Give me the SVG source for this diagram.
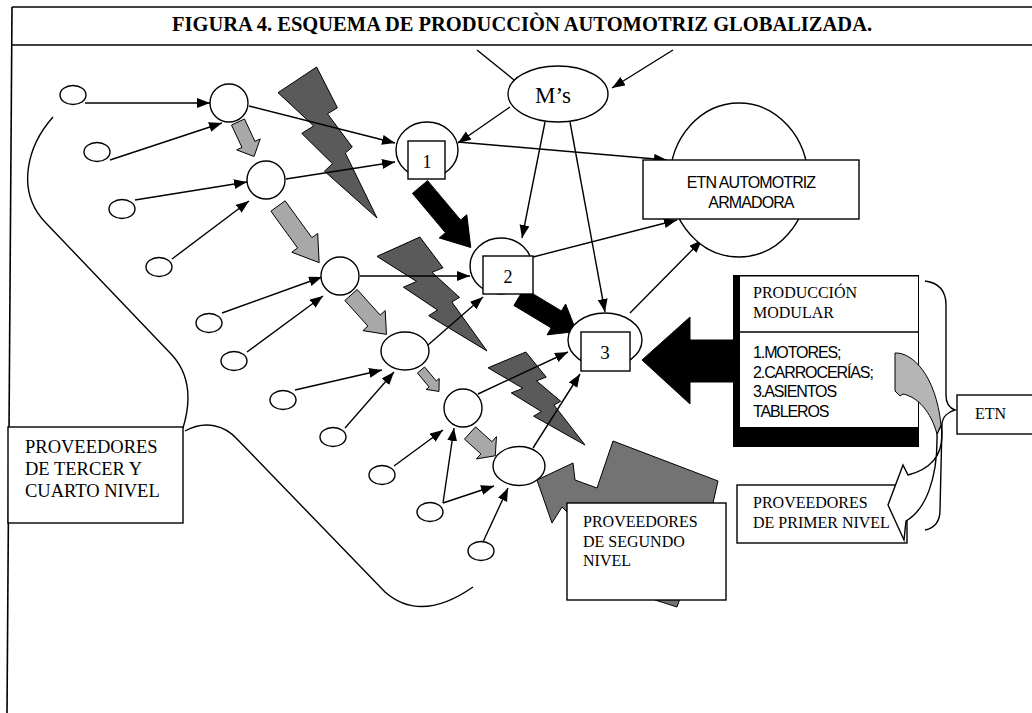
<svg xmlns="http://www.w3.org/2000/svg" width="1032" height="713" viewBox="0 0 1032 713">
<defs>
<style>
.ln{stroke:#000;stroke-width:1.4;fill:none}
.ar{marker-end:url(#ah)}
.nd{fill:#fff;stroke:#000;stroke-width:1.4}
.bolt{fill:#5a5a5a;stroke:#000;stroke-width:1}
.ga{fill:#a8a8a8;stroke:#000;stroke-width:1}
.ka{fill:#000;stroke:#000;stroke-width:1}
.frame{stroke:#000;stroke-width:1.6;fill:none}
.serif{font-family:"Liberation Serif","Times New Roman",serif;fill:#000}
.sans{font-family:"Liberation Sans",Arial,sans-serif;fill:#000}
</style>
<marker id="ah" markerUnits="userSpaceOnUse" markerWidth="14" markerHeight="11" refX="13" refY="5" orient="auto"><path d="M0,0 L13,5 L0,10 Z" fill="#000"/></marker>
<polygon id="boltshape" vector-effect="non-scaling-stroke" points="0,0.17 0.39,0 0.6,0.27 0.5,0.31 0.75,0.53 0.68,0.57 1,1 0.47,0.69 0.55,0.64 0.24,0.44 0.36,0.39"/>
<path id="blk" vector-effect="non-scaling-stroke" d="M0,-0.275 L0.65,-0.275 L0.65,-0.5 L1,0 L0.65,0.5 L0.65,0.275 L0,0.275 Z"/>
</defs>
<rect width="1032" height="713" fill="#fff"/>

<g id="frame">
<line class="frame" x1="12" y1="7" x2="1032" y2="7"/>
<line class="frame" x1="12" y1="45" x2="1032" y2="45"/>
<line class="frame" x1="12" y1="7" x2="7" y2="713"/>
<text class="serif" x="522" y="31" font-size="20.5" font-weight="bold" text-anchor="middle">FIGURA 4. ESQUEMA DE PRODUCCIÒN AUTOMOTRIZ GLOBALIZADA.</text>
</g>

<g id="region-boundary">
<path class="ln" d="M53,117 C28,145 15,190 45,222 L172,355 C192,377 190,405 183,428"/>
<path class="ln" d="M185,431 C205,420 225,425 238,440 L385,592 C410,614 440,610 473,587"/>
</g>

<g id="bolts">
<use href="#boltshape" class="bolt" transform="translate(278,67) scale(99,151)"/>
<use href="#boltshape" class="bolt" transform="translate(377,237) scale(110,114)"/>
<use href="#boltshape" class="bolt" transform="translate(488,352) scale(97,93)"/>
</g>

<g id="block-arrows">
<use href="#blk" class="ga" transform="translate(238,122) rotate(65) scale(38,26)"/>
<use href="#blk" class="ga" transform="translate(278,206) rotate(54) scale(70,32)"/>
<use href="#blk" class="ga" transform="translate(351,295) rotate(48) scale(53,30)"/>
<use href="#blk" class="ga" transform="translate(421,370) rotate(50) scale(28,17)"/>
<use href="#blk" class="ga" transform="translate(470,433) rotate(42) scale(34,30)"/>
<use href="#blk" class="ka" transform="translate(420,187) rotate(50) scale(79,36)"/>
<use href="#blk" class="ka" transform="translate(519,297) rotate(31) scale(67,36)"/>
<polygon class="ka" points="642,360 690,317 690,340 733,340 733,382 690,382 690,404"/>
<polygon fill="#737373" stroke="#000" stroke-width="1" points="537,480 573,463 575,480 597,488 613,441 718,481 713,503 677,607 655,600 562,507 552,523"/>
</g>

<g id="connectors">
<line class="ln ar" x1="477" y1="50" x2="524" y2="88"/>
<line class="ln ar" x1="673" y1="50" x2="612" y2="88"/>
<line class="ln ar" x1="85" y1="103" x2="210" y2="103"/>
<line class="ln ar" x1="110" y1="160" x2="222" y2="123"/>
<line class="ln ar" x1="249" y1="106" x2="395" y2="143"/>
<line class="ln ar" x1="286" y1="179" x2="395" y2="162"/>
<line class="ln ar" x1="135" y1="200" x2="247" y2="182"/>
<line class="ln ar" x1="172" y1="259" x2="249" y2="201"/>
<line class="ln ar" x1="510" y1="107" x2="458" y2="143"/>
<line class="ln ar" x1="545" y1="122" x2="522" y2="238"/>
<line class="ln ar" x1="570" y1="122" x2="605" y2="312"/>
<line class="ln ar" x1="458" y1="142" x2="667" y2="160"/>
<line class="ln ar" x1="533" y1="257" x2="677" y2="220"/>
<line class="ln ar" x1="630" y1="313" x2="702" y2="240"/>
<line class="ln ar" x1="222" y1="313" x2="322" y2="277"/>
<line class="ln ar" x1="247" y1="352" x2="323" y2="296"/>
<line class="ln ar" x1="360" y1="276" x2="470" y2="276"/>
<line class="ln ar" x1="428" y1="345" x2="483" y2="297"/>
<line class="ln ar" x1="295" y1="390" x2="382" y2="370"/>
<line class="ln ar" x1="345" y1="428" x2="394" y2="372"/>
<line class="ln ar" x1="478" y1="394" x2="568" y2="352"/>
<line class="ln ar" x1="533" y1="448" x2="580" y2="374"/>
<line class="ln ar" x1="394" y1="466" x2="443" y2="430"/>
<line class="ln ar" x1="443" y1="503" x2="454" y2="428"/>
<line class="ln ar" x1="443" y1="503" x2="494" y2="486"/>
<line class="ln ar" x1="483" y1="542" x2="508" y2="488"/>
</g>

<g id="suppliers-3">
<ellipse class="nd" cx="73" cy="95" rx="13" ry="9.5"/>
<ellipse class="nd" cx="97" cy="152" rx="13" ry="9.5"/>
<ellipse class="nd" cx="122" cy="209" rx="13" ry="9.5"/>
<ellipse class="nd" cx="159" cy="267" rx="13" ry="9.5"/>
<ellipse class="nd" cx="209" cy="323" rx="13" ry="9.5"/>
<ellipse class="nd" cx="234" cy="361" rx="13" ry="9.5"/>
<ellipse class="nd" cx="283" cy="400" rx="13" ry="9.5"/>
<ellipse class="nd" cx="333" cy="437" rx="13" ry="9.5"/>
<ellipse class="nd" cx="382" cy="475" rx="13" ry="9.5"/>
<ellipse class="nd" cx="430" cy="512" rx="13" ry="9.5"/>
<ellipse class="nd" cx="481" cy="551" rx="13" ry="9.5"/>
</g>

<g id="suppliers-2">
<circle class="nd" cx="229" cy="103" r="19"/>
<circle class="nd" cx="266" cy="180" r="19"/>
<circle class="nd" cx="340" cy="276" r="19"/>
<ellipse class="nd" cx="405" cy="351" rx="24" ry="19"/>
<circle class="nd" cx="463" cy="408" r="19"/>
<ellipse class="nd" cx="519" cy="466" rx="26" ry="19.5"/>
</g>

<g id="node-ms">
<ellipse class="nd" cx="558" cy="94" rx="50" ry="28"/>
<text class="serif" x="553" y="103" font-size="23" text-anchor="middle">M’s</text>
</g>

<g id="node-1">
<ellipse class="nd" cx="427" cy="150" rx="31" ry="28"/>
<rect class="nd" x="408" y="141" width="37" height="38"/>
<text class="serif" x="427" y="168" font-size="18" text-anchor="middle">1</text>
</g>

<g id="node-2">
<ellipse class="nd" cx="501" cy="266" rx="31" ry="28"/>
<rect class="nd" x="483" y="256" width="50" height="38"/>
<text class="serif" x="508" y="283" font-size="18" text-anchor="middle">2</text>
</g>

<g id="node-3">
<ellipse class="nd" cx="605" cy="340" rx="37" ry="27"/>
<rect class="nd" x="581" y="332" width="49" height="39"/>
<text class="serif" x="605" y="359" font-size="19" text-anchor="middle">3</text>
</g>

<g id="node-etn-armadora">
<ellipse class="nd" cx="739" cy="180" rx="69" ry="77"/>
<rect class="nd" x="643" y="160" width="216" height="59"/>
<text class="sans" x="751" y="188" font-size="16" letter-spacing="-0.9" text-anchor="middle">ETN AUTOMOTRIZ</text>
<text class="sans" x="751" y="208" font-size="16" letter-spacing="-0.9" text-anchor="middle">ARMADORA</text>
</g>

<g id="node-produccion-modular">
<rect x="733" y="275" width="186" height="172" fill="#000"/>
<rect x="740" y="276.5" width="178" height="150.5" fill="#fff"/>
<line class="ln" x1="740" y1="332" x2="918" y2="332"/>
<text class="serif" x="753" y="298" font-size="16">PRODUCCIÓN</text>
<text class="serif" x="753" y="318" font-size="16">MODULAR</text>
<text class="sans" font-size="16" letter-spacing="-1.1">
<tspan x="753" y="358">1.MOTORES;</tspan>
<tspan x="753" y="378">2.CARROCERÍAS;</tspan>
<tspan x="753" y="397">3.ASIENTOS</tspan>
<tspan x="753" y="417">TABLEROS</tspan>
</text>
</g>

<g id="node-tercer">
<rect class="nd" x="8" y="427" width="175" height="96"/>
<text class="serif" font-size="18.5">
<tspan x="25" y="453">PROVEEDORES</tspan>
<tspan x="25" y="475">DE TERCER Y</tspan>
<tspan x="25" y="497">CUARTO NIVEL</tspan>
</text>
</g>

<g id="node-segundo">
<rect class="nd" x="567" y="503" width="159" height="97"/>
<text class="serif" font-size="16">
<tspan x="583" y="527">PROVEEDORES</tspan>
<tspan x="583" y="547">DE SEGUNDO</tspan>
<tspan x="583" y="566">NIVEL</tspan>
</text>
</g>

<g id="node-primer">
<rect class="nd" x="737" y="485" width="170" height="58"/>
<text class="serif" font-size="16">
<tspan x="753" y="508">PROVEEDORES</tspan>
<tspan x="753" y="528">DE PRIMER NIVEL</tspan>
</text>
</g>

<g id="curved-arrow">
<path class="nd" stroke-width="1" d="M941,425 C945,450 935,468 908,475 L903,465 L888,505 L904,540 L906,521 C925,510 938,480 937,434 Z"/>
<path fill="#b5b5b5" stroke="#000" stroke-width="1" d="M895,353 C912,352 936,375 941,425 L937,434 C931,412 918,397 903,394 L900,396 L895,391 Z"/>
</g>

<g id="brace">
<path class="ln" d="M925,281 C940,283 946,292 946,305 L946,395 C946,403 949,408 955,410 C948,412 942,417 942,425 L940,510 C940,522 935,528 925,530"/>
</g>

<g id="node-etn">
<rect class="nd" x="957" y="395" width="80" height="39"/>
<text class="serif" x="975" y="419" font-size="16">ETN</text>
</g>
</svg>
